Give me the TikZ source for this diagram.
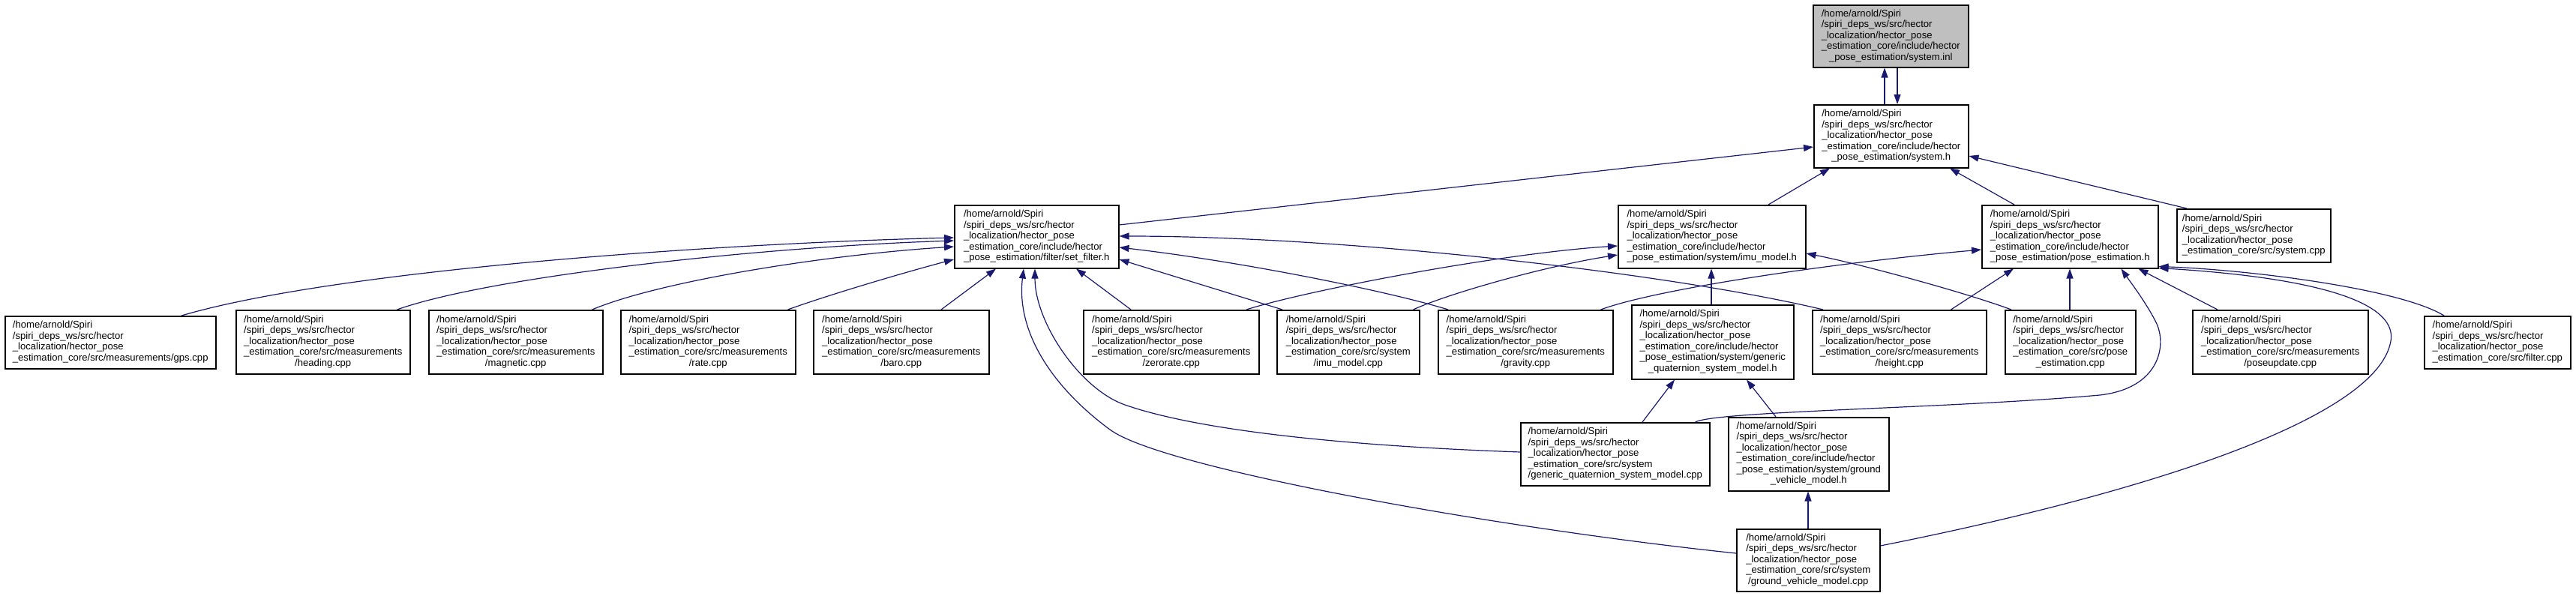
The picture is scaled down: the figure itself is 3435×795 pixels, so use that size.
\documentclass[tikz,border=0pt]{standalone}
\usepackage{fontspec}
\setmainfont{Liberation Sans}
\usetikzlibrary{arrows.meta,calc}
\definecolor{edgeblue}{HTML}{191970}
\definecolor{rootgray}{HTML}{BFBFBF}
\newcommand{\lbl}[2]{\begin{tabular}{@{}l@{}}#1\\\multicolumn{1}{@{}c@{}}{#2}\end{tabular}}
\newcommand{\hpre}{/home/arnold/Spiri\\/spiri\_deps\_ws/src/hector\\\_localization/hector\_pose}
\newcommand{\hinc}{\hpre\\\_estimation\_core/include/hector}
\newcommand{\hmeas}{\hpre\\\_estimation\_core/src/measurements}
\newcommand{\hsys}{\hpre\\\_estimation\_core/src/system}
\tikzset{
  fbox/.style={draw=black, line width=1.5pt, fill=white, inner sep=0pt, anchor=north west,
    font=\fontsize{13.1}{14.5}\selectfont},
  edge/.style={draw=edgeblue, line width=1.2pt, -{Triangle[length=13pt,width=9pt]}}
}
\begin{document}
\begin{tikzpicture}[x=1pt,y=-1pt]
\useasboundingbox (0,0) rectangle (3435,795);
% nodes
\node[fbox, fill=rootgray, minimum width=207pt, minimum height=83pt] (inl) at (2417,6) {\lbl{\hinc}{\_pose\_estimation/system.inl}};
\node[fbox, minimum width=206pt, minimum height=84pt] (sysh) at (2418,139) {\lbl{\hinc}{\_pose\_estimation/system.h}};
\node[fbox, minimum width=219pt, minimum height=84pt] (setf) at (1272,273) {\lbl{\hinc}{\_pose\_estimation/filter/set\_filter.h}};
\node[fbox, minimum width=250pt, minimum height=84pt] (imuh) at (2157,273) {\lbl{\hinc}{\_pose\_estimation/system/imu\_model.h}};
\node[fbox, minimum width=235pt, minimum height=84pt] (poseh) at (2642,273) {\lbl{\hinc}{\_pose\_estimation/pose\_estimation.h}};
\node[fbox, minimum width=205pt, minimum height=71pt] (syscpp) at (2902,278) {\lbl{\hpre}{\_estimation\_core/src/system.cpp}};
\node[fbox, minimum width=281pt, minimum height=70pt] (gps) at (6,421) {\lbl{\hpre}{\_estimation\_core/src/measurements/gps.cpp}};
\node[fbox, minimum width=232pt, minimum height=85pt] (heading) at (314,413) {\lbl{\hmeas}{/heading.cpp}};
\node[fbox, minimum width=232pt, minimum height=85pt] (magnetic) at (571,413) {\lbl{\hmeas}{/magnetic.cpp}};
\node[fbox, minimum width=233pt, minimum height=85pt] (rate) at (827,413) {\lbl{\hmeas}{/rate.cpp}};
\node[fbox, minimum width=234pt, minimum height=85pt] (baro) at (1084,413) {\lbl{\hmeas}{/baro.cpp}};
\node[fbox, minimum width=234pt, minimum height=85pt] (zerorate) at (1444,413) {\lbl{\hmeas}{/zerorate.cpp}};
\node[fbox, minimum width=190pt, minimum height=85pt] (imucpp) at (1702,413) {\lbl{\hsys}{/imu\_model.cpp}};
\node[fbox, minimum width=233pt, minimum height=85pt] (gravity) at (1917,413) {\lbl{\hmeas}{/gravity.cpp}};
\node[fbox, minimum width=216pt, minimum height=99pt] (genh) at (2175,406) {\lbl{\hinc\\\_pose\_estimation/system/generic}{\_quaternion\_system\_model.h}};
\node[fbox, minimum width=232pt, minimum height=85pt] (height) at (2416,413) {\lbl{\hmeas}{/height.cpp}};
\node[fbox, minimum width=174pt, minimum height=85pt] (posecpp) at (2673,413) {\lbl{\hpre\\\_estimation\_core/src/pose}{\_estimation.cpp}};
\node[fbox, minimum width=234pt, minimum height=85pt] (poseupd) at (2923,413) {\lbl{\hmeas}{/poseupdate.cpp}};
\node[fbox, minimum width=195pt, minimum height=70pt] (filtercpp) at (3232,421) {\lbl{\hpre}{\_estimation\_core/src/filter.cpp}};
\node[fbox, minimum width=252pt, minimum height=84pt] (gencpp) at (2027,563) {\lbl{\hsys}{/generic\_quaternion\_system\_model.cpp}};
\node[fbox, minimum width=214pt, minimum height=98pt] (gvmh) at (2304,556) {\lbl{\hinc\\\_pose\_estimation/system/ground}{\_vehicle\_model.h}};
\node[fbox, minimum width=191pt, minimum height=83pt] (gvmcpp) at (2315,705) {\lbl{\hsys}{/ground\_vehicle\_model.cpp}};
% edges
\draw[edge] ($(sysh.north west)+(95,0)$) -- ($(inl.south west)+(96,0)$);
\draw[edge] ($(inl.south west)+(113,0)$) -- ($(sysh.north west)+(112,0)$);
\draw[edge] ($(setf.north east)+(0,27)$) -- ($(sysh.north west)+(0,57)$);
\draw[edge] ($(imuh.north west)+(201,0)$) -- ($(sysh.south west)+(22,0)$);
\draw[edge] ($(poseh.north west)+(44,0)$) -- ($(sysh.south west)+(182,0)$);
\draw[edge] ($(syscpp.north west)+(14,0)$) -- ($(sysh.north east)+(0,69)$);
\draw[edge] ($(gps.north west)+(236,0)$) .. controls (450,360) and (950,325) .. ($(setf.north west)+(0,44)$);
\draw[edge] ($(heading.north east)+(-18,0)$) .. controls (650,370) and (1000,330) .. ($(setf.north west)+(0,48)$);
\draw[edge] ($(magnetic.north east)+(-15,0)$) .. controls (880,375) and (1100,340) .. ($(setf.north west)+(0,56)$);
\draw[edge] ($(rate.north east)+(-11,0)$) .. controls (1100,395) and (1200,365) .. ($(setf.north west)+(0,73)$);
\draw[edge] ($(baro.north west)+(171,0)$) -- ($(setf.south west)+(56,0)$);
\draw[edge] ($(zerorate.north west)+(64,0)$) -- ($(setf.south west)+(163,0)$);
\draw[edge] ($(imucpp.north west)+(8,0)$) -- ($(setf.north east)+(0,73)$);
\draw[edge] ($(gravity.north west)+(14,0)$) .. controls (1850,388) and (1650,348) .. ($(setf.north east)+(0,57)$);
\draw[edge] ($(height.north west)+(15,0)$) .. controls (2230,365) and (1800,315) .. ($(setf.north east)+(0,42)$);
\draw[edge] ($(gencpp.north west)+(0,40)$) .. controls (1800,595) and (1600,575) .. (1500,540) .. controls (1440,519) and (1380,430) .. ($(setf.south west)+(108,0)$);
\draw[edge] ($(gvmcpp.north west)+(0,33)$) .. controls (2000,705) and (1550,625) .. (1480,573) .. controls (1400,514) and (1355,440) .. ($(setf.south west)+(93,0)$);
\draw[edge] ($(zerorate.north west)+(218,0)$) .. controls (1740,388) and (2000,338) .. ($(imuh.north west)+(0,55)$);
\draw[edge] ($(imucpp.north east)+(-9,0)$) .. controls (1930,392) and (2060,355) .. ($(imuh.north west)+(0,67)$);
\draw[edge] ($(genh.north west)+(107,0)$) -- ($(imuh.south west)+(125,0)$);
\draw[edge] ($(posecpp.north west)+(9,0)$) .. controls (2620,390) and (2480,352) .. ($(imuh.north east)+(0,65)$);
\draw[edge] ($(gravity.north east)+(-17,0)$) .. controls (2210,385) and (2450,350) .. ($(poseh.north west)+(0,60)$);
\draw[edge] ($(height.north east)+(-48,0)$) -- ($(poseh.south west)+(43,0)$);
\draw[edge] ($(posecpp.north west)+(87,0)$) -- ($(poseh.south west)+(118,0)$);
\draw[edge] ($(gencpp.north east)+(-20,0)$) .. controls (2290,548) and (2600,545) .. (2800,527) .. controls (2880,518) and (2890,460) .. (2875,430) .. controls (2862,404) and (2840,375) .. ($(poseh.south east)+(-50,0)$);
\draw[edge] ($(poseupd.north west)+(34,0)$) -- ($(poseh.south east)+(-27,0)$);
\draw[edge] ($(filtercpp.north west)+(27,0)$) .. controls (3200,385) and (3000,360) .. ($(poseh.south east)+(0,-3)$);
\draw[edge] ($(gvmcpp.north east)+(0,23)$) .. controls (2850,660) and (3170,560) .. (3188,455) .. controls (3200,385) and (3000,365) .. ($(poseh.south east)+(0,-1)$);
\draw[edge] ($(gencpp.north west)+(163,0)$) -- ($(genh.south west)+(58,0)$);
\draw[edge] ($(gvmh.north west)+(64,0)$) -- ($(genh.south west)+(154,0)$);
\draw[edge] ($(gvmcpp.north west)+(96,0)$) -- ($(gvmh.south west)+(107,0)$);
\end{tikzpicture}
\end{document}
